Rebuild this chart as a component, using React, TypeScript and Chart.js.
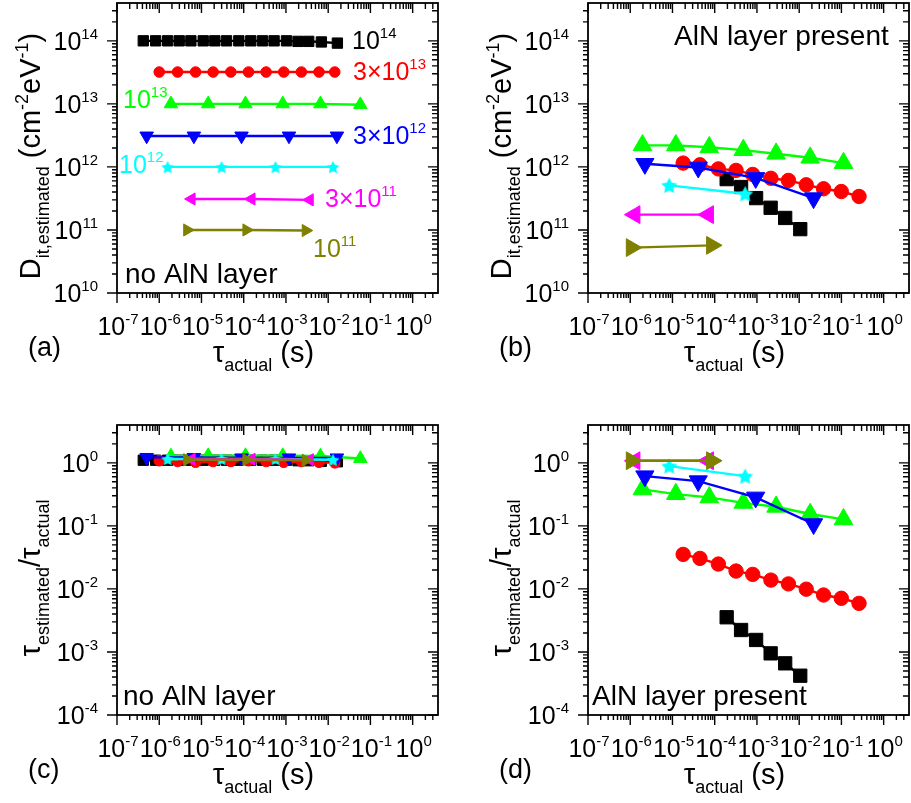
import React, { useEffect, useRef } from "react";
import { Chart, registerables } from "chart.js";

Chart.register(...registerables);

const SANS = '"Liberation Sans", Arial, sans-serif';

// Series order: 1e14, 3e13, 1e13, 3e12, 1e12, 3e11, 1e11
const seriesNames = ["1e14", "3e13", "1e13", "3e12", "1e12", "3e11", "1e11"];
const seriesColors = ["#000000", "#ff0000", "#00ff00", "#0000ff", "#00ffff", "#ff00ff", "#808000"];

// ---------- Panel (a) / (c): no AlN layer ----------
const tauA_1e14 = [4.19e-7, 8.22e-7, 1.58e-6, 2.97e-6, 5.61e-6, 1.1e-5, 2.07e-5, 3.92e-5, 7.66e-5, 1.47e-4, 2.78e-4, 5.24e-4, 1.03e-3, 1.93e-3, 3.46e-3, 6.9e-3, 1.65e-2];
const tauA_3e13 = [1.0e-6, 2.72e-6, 7.26e-6, 1.89e-5, 4.95e-5, 1.3e-4, 3.39e-4, 8.87e-4, 2.32e-3, 6.07e-3, 1.43e-2];
const tauA_1e13 = [1.89e-6, 1.44e-5, 1.1e-4, 8.4e-4, 6.55e-3, 5.77e-2];
const tauA_3e12 = [5.04e-7, 6.61e-6, 8.87e-5, 1.18e-3, 1.61e-2];
const tauA_1e12 = [1.58e-6, 2.99e-5, 5.65e-4, 1.3e-2];
const tauA_3e11 = [5.83e-6, 1.53e-4, 3.66e-3];
const tauA_1e11 = [4.59e-6, 1.16e-4, 2.94e-3];

const ditA_1e14 = [1.0e14, 1.0e14, 1.0e14, 1.0e14, 1.0e14, 1.0e14, 1.0e14, 1.0e14, 1.0e14, 1.0e14, 1.0e14, 1.0e14, 1.0e14, 0.98e14, 0.98e14, 0.96e14, 0.92e14];
const ditA_3e13 = [3.2e13, 3.2e13, 3.2e13, 3.2e13, 3.2e13, 3.2e13, 3.2e13, 3.2e13, 3.2e13, 3.2e13, 3.2e13];
const ditA_1e13 = [1.0e13, 1.0e13, 1.0e13, 1.0e13, 1.0e13, 0.97e13];
const ditA_3e12 = [3.1e12, 3.1e12, 3.1e12, 3.1e12, 3.1e12];
const ditA_1e12 = [1.0e12, 1.0e12, 1.0e12, 1.0e12];
const ditA_3e11 = [3.1e11, 3.1e11, 3.0e11];
const ditA_1e11 = [1.0e11, 1.0e11, 0.98e11];

const ratioC_1e14 = [1.1, 1.1, 1.1, 1.1, 1.1, 1.1, 1.1, 1.1, 1.1, 1.1, 1.1, 1.1, 1.1, 1.08, 1.08, 1.06, 1.04];
const ratioC_3e13 = [1.08, 1.05, 1.02, 1.05, 1.05, 1.08, 1.05, 1.02, 1.05, 1.02, 1.0];
const ratioC_1e13 = [1.28, 1.3, 1.3, 1.3, 1.28, 1.17];
const ratioC_3e12 = [1.22, 1.22, 1.2, 1.2, 1.2];
const ratioC_1e12 = [1.15, 1.15, 1.15, 1.12];
const ratioC_3e11 = [1.14, 1.14, 1.12];
const ratioC_1e11 = [1.12, 1.12, 1.1];

// ---------- Panel (b) / (d): AlN layer present ----------
const tauB_1e14 = [1.92e-4, 4.21e-4, 9.55e-4, 2.11e-3, 4.66e-3, 1.06e-2];
const tauB_3e13 = [1.79e-5, 4.47e-5, 1.22e-4, 3.2e-4, 7.94e-4, 2.14e-3, 5.57e-3, 1.47e-2, 3.78e-2, 9.93e-2, 2.61e-1];
const tauB_1e13 = [1.95e-6, 1.2e-5, 7.43e-5, 4.76e-4, 2.84e-3, 1.82e-2, 1.12e-1];
const tauB_3e12 = [2.22e-6, 4.07e-5, 9.33e-4, 2.19e-2];
const tauB_1e12 = [8.36e-6, 5.25e-4];
const tauB_3e11 = [1.28e-6, 7.05e-5];
const tauB_1e11 = [1.07e-6, 8.51e-5];

const ditB_1e14 = [6.4e11, 4.8e11, 3.2e11, 2.25e11, 1.55e11, 1.03e11];
const ditB_3e13 = [1.15e12, 1.08e12, 9.3e11, 8.8e11, 7.6e11, 6.6e11, 6.1e11, 5.2e11, 4.5e11, 4.07e11, 3.4e11];
const ditB_1e13 = [2.2e12, 2.2e12, 2.05e12, 1.85e12, 1.62e12, 1.4e12, 1.15e12];
const ditB_3e12 = [1.12e12, 9.8e11, 6.7e11, 3.2e11];
const ditB_1e12 = [5.1e11, 3.75e11];
const ditB_3e11 = [1.75e11, 1.75e11];
const ditB_1e11 = [5.25e10, 5.7e10];

const ratioD_1e14 = [3.55e-3, 2.23e-3, 1.55e-3, 9.5e-4, 6.6e-4, 4.2e-4];
const ratioD_3e13 = [0.0353, 0.0305, 0.0248, 0.0192, 0.017, 0.0138, 0.012, 0.0099, 0.008, 0.0071, 0.0059];
const ratioD_1e13 = [0.379, 0.319, 0.283, 0.232, 0.201, 0.154, 0.127];
const ratioD_3e12 = [0.615, 0.513, 0.283, 0.107];
const ratioD_1e12 = [0.887, 0.615];
const ratioD_3e11 = [1.08, 1.08];
const ratioD_1e11 = [1.08, 1.08];

// axis tick exponents
const xDecades = [-7, -6, -5, -4, -3, -2, -1, 0];
const ditDecades = [10, 11, 12, 13, 14];
const ratioDecades = [-4, -3, -2, -1, 0];

const X_MIN = 1e-7;
const X_MAX = Math.pow(10, 0.6);

type Part = [string, number, number];

function richWidth(ctx: CanvasRenderingContext2D, parts: Part[]) {
  let w = 0;
  for (const [t, s] of parts) {
    ctx.font = `${s}px ${SANS}`;
    w += ctx.measureText(t).width;
  }
  return w;
}

function drawRich(ctx: CanvasRenderingContext2D, parts: Part[], x: number, y: number, align: string, color: string) {
  const w = richWidth(ctx, parts);
  let cx = align === "left" ? x : align === "center" ? x - w / 2 : x - w;
  ctx.fillStyle = color;
  ctx.textAlign = "left";
  ctx.textBaseline = "alphabetic";
  for (const [t, s, dy] of parts) {
    ctx.font = `${s}px ${SANS}`;
    ctx.fillText(t, cx, y + dy);
    cx += ctx.measureText(t).width;
  }
}

function makeStar(r: number, color: string) {
  const c = document.createElement("canvas");
  const s = Math.ceil(2 * r + 2);
  c.width = s;
  c.height = s;
  const g = c.getContext("2d")!;
  g.fillStyle = color;
  g.beginPath();
  for (let i = 0; i < 10; i++) {
    const rr = i % 2 === 0 ? r : r * 0.5;
    const a = -Math.PI / 2 + (i * Math.PI) / 5;
    const px = s / 2 + rr * Math.cos(a);
    const py = s / 2 + rr * Math.sin(a) + 0.8;
    if (i === 0) g.moveTo(px, py);
    else g.lineTo(px, py);
  }
  g.closePath();
  g.fill();
  return c;
}

const SUP = (base: string, exp: string, size = 25, esize = 15): Part[] => [
  [base, size, 0],
  [exp, esize, -11],
];

type Annot = { parts: Part[]; color: string; dx: number; dy: number; align?: string };

type PanelCfg = {
  id: string;
  left: number;
  top: number;
  w: number;
  h: number;
  pad: { left: number; right: number; top: number; bottom: number };
  xs: number[][];
  ys: number[][];
  big: boolean;
  yMin: number;
  yMax: number;
  yDecades: number[];
  yTitle: Part[];
  label: string;
  annots: Annot[];
};

const yTitleDit: Part[] = [
  ["D", 29, 0],
  ["it,estimated", 18, 9],
  [" (cm", 29, 0],
  ["-2", 18, -12],
  ["eV", 29, 0],
  ["-1", 18, -12],
  [")", 29, 0],
];
const yTitleRatio: Part[] = [
  ["τ", 29, 0],
  ["estimated", 18, 9],
  ["/", 29, 0],
  ["τ", 29, 0],
  ["actual", 18, 9],
];

const panels: PanelCfg[] = [
  {
    id: "a",
    left: 0,
    top: 0,
    w: 455,
    h: 400,
    pad: { left: 117, right: 17, top: 3, bottom: 107 },
    xs: [tauA_1e14, tauA_3e13, tauA_1e13, tauA_3e12, tauA_1e12, tauA_3e11, tauA_1e11],
    ys: [ditA_1e14, ditA_3e13, ditA_1e13, ditA_3e12, ditA_1e12, ditA_3e11, ditA_1e11],
    big: false,
    yMin: 1e10,
    yMax: Math.pow(10, 14.6),
    yDecades: ditDecades,
    yTitle: yTitleDit,
    label: "(a)",
    annots: [
      { parts: SUP("10", "14"), color: seriesColors[0], dx: 235, dy: 46 },
      { parts: SUP("3×10", "13"), color: seriesColors[1], dx: 236, dy: 77 },
      { parts: SUP("10", "13"), color: seriesColors[2], dx: 6, dy: 105 },
      { parts: SUP("3×10", "12"), color: seriesColors[3], dx: 236, dy: 141 },
      { parts: SUP("10", "12"), color: seriesColors[4], dx: 2, dy: 170 },
      { parts: SUP("3×10", "11"), color: seriesColors[5], dx: 208, dy: 204 },
      { parts: SUP("10", "11"), color: seriesColors[6], dx: 196, dy: 254 },
      { parts: [["no AlN layer", 28, 0]], color: "#000", dx: 8, dy: 280 },
    ],
  },
  {
    id: "b",
    left: 455,
    top: 0,
    w: 456,
    h: 400,
    pad: { left: 133, right: 2, top: 3, bottom: 107 },
    xs: [tauB_1e14, tauB_3e13, tauB_1e13, tauB_3e12, tauB_1e12, tauB_3e11, tauB_1e11],
    ys: [ditB_1e14, ditB_3e13, ditB_1e13, ditB_3e12, ditB_1e12, ditB_3e11, ditB_1e11],
    big: true,
    yMin: 1e10,
    yMax: Math.pow(10, 14.6),
    yDecades: ditDecades,
    yTitle: yTitleDit,
    label: "(b)",
    annots: [{ parts: [["AlN layer present", 28, 0]], color: "#000", dx: 86, dy: 42 }],
  },
  {
    id: "c",
    left: 0,
    top: 400,
    w: 455,
    h: 403,
    pad: { left: 117, right: 17, top: 25, bottom: 88 },
    xs: [tauA_1e14, tauA_3e13, tauA_1e13, tauA_3e12, tauA_1e12, tauA_3e11, tauA_1e11],
    ys: [ratioC_1e14, ratioC_3e13, ratioC_1e13, ratioC_3e12, ratioC_1e12, ratioC_3e11, ratioC_1e11],
    big: false,
    yMin: 1e-4,
    yMax: Math.pow(10, 0.6),
    yDecades: ratioDecades,
    yTitle: yTitleRatio,
    label: "(c)",
    annots: [{ parts: [["no AlN layer", 28, 0]], color: "#000", dx: 6, dy: 280 }],
  },
  {
    id: "d",
    left: 455,
    top: 400,
    w: 456,
    h: 403,
    pad: { left: 133, right: 2, top: 25, bottom: 88 },
    xs: [tauB_1e14, tauB_3e13, tauB_1e13, tauB_3e12, tauB_1e12, tauB_3e11, tauB_1e11],
    ys: [ratioD_1e14, ratioD_3e13, ratioD_1e13, ratioD_3e12, ratioD_1e12, ratioD_3e11, ratioD_1e11],
    big: true,
    yMin: 1e-4,
    yMax: Math.pow(10, 0.6),
    yDecades: ratioDecades,
    yTitle: yTitleRatio,
    label: "(d)",
    annots: [{ parts: [["AlN layer present", 28, 0]], color: "#000", dx: 4, dy: 280 }],
  },
];

// marker style per series: [style, rotation, small radius, big radius]
const markerStyles: [string, number, number, number][] = [
  ["rect", 0, 7.3, 9.4],
  ["circle", 0, 5.3, 7.2],
  ["triangle", 0, 7.8, 10.8],
  ["triangle", 180, 7.8, 10.5],
  ["star", 0, 6.8, 8.5],
  ["triangle", 270, 7, 10.3],
  ["triangle", 90, 7, 10.3],
];

function makeDeco(cfg: PanelCfg) {
  return {
    id: "deco_" + cfg.id,
    beforeDatasetsDraw(chart: any) {
      const ctx: CanvasRenderingContext2D = chart.ctx;
      const { left, right, top, bottom } = chart.chartArea;
      const xs = chart.scales.x;
      const ys = chart.scales.y;
      ctx.save();
      ctx.strokeStyle = "#000";
      ctx.lineWidth = 1.4;
      ctx.beginPath();
      for (let d = -7; d <= 0; d++) {
        for (let k = 1; k <= 9; k++) {
          const v = k * Math.pow(10, d);
          if (v < X_MIN * 0.999 || v > X_MAX * 1.001) continue;
          const px = xs.getPixelForValue(v);
          const major = k === 1;
          ctx.moveTo(px, bottom);
          ctx.lineTo(px, bottom + (major ? 10 : 5));
          ctx.moveTo(px, top);
          ctx.lineTo(px, top + (major ? 10 : 6));
        }
      }
      const d0 = Math.floor(Math.log10(cfg.yMin));
      const d1 = Math.floor(Math.log10(cfg.yMax));
      for (let d = d0; d <= d1; d++) {
        for (let k = 1; k <= 9; k++) {
          const v = k * Math.pow(10, d);
          if (v < cfg.yMin * 0.999 || v > cfg.yMax * 1.001) continue;
          const py = ys.getPixelForValue(v);
          const major = k === 1;
          ctx.moveTo(left, py);
          ctx.lineTo(left - (major ? 10 : 5), py);
          ctx.moveTo(right, py);
          ctx.lineTo(right - (major ? 10 : 6), py);
        }
      }
      ctx.stroke();
      ctx.lineWidth = 1.8;
      ctx.strokeRect(left, top, right - left, bottom - top);
      ctx.restore();
    },
    afterDraw(chart: any) {
      const ctx: CanvasRenderingContext2D = chart.ctx;
      const { left, right, top, bottom } = chart.chartArea;
      const xs = chart.scales.x;
      const ys = chart.scales.y;
      ctx.save();
      // x tick labels
      for (const d of xDecades) {
        const px = xs.getPixelForValue(Math.pow(10, d));
        drawRich(ctx, SUP("10", String(d)), px + 1, bottom + 42, "center", "#000");
      }
      // y tick labels
      for (const d of cfg.yDecades) {
        const py = ys.getPixelForValue(Math.pow(10, d));
        drawRich(ctx, SUP("10", String(d)), left - 19, py + 9, "right", "#000");
      }
      // x title
      const cxm = (left + right) / 2 - 14;
      drawRich(
        ctx,
        [
          ["τ", 29, 0],
          ["actual", 18, 9],
          [" (s)", 29, 0],
        ],
        cxm,
        bottom + 69,
        "center",
        "#000"
      );
      // y title (rotated)
      ctx.save();
      ctx.translate(left - 77, (top + bottom) / 2 + 8);
      ctx.rotate(-Math.PI / 2);
      drawRich(ctx, cfg.yTitle, 0, 0, "center", "#000");
      ctx.restore();
      // panel label
      drawRich(ctx, [[cfg.label, 27, 0]], left - 89, bottom + 63, "left", "#000");
      // annotations
      for (const a of cfg.annots) {
        drawRich(ctx, a.parts, left + a.dx, top + a.dy, a.align || "left", a.color);
      }
      ctx.restore();
    },
  };
}

function Panel({ cfg }: { cfg: PanelCfg }) {
  const ref = useRef<HTMLCanvasElement>(null);
  useEffect(() => {
    const canvas = ref.current!;
    const datasets = cfg.xs.map((xarr, i) => {
      const color = seriesColors[i];
      const [style, rot, rs, rb] = markerStyles[i];
      const r = cfg.big ? rb : rs;
      const pointStyle: any = style === "star" ? makeStar(r, color) : style;
      return {
        label: seriesNames[i],
        data: xarr.map((x, j) => ({ x, y: cfg.ys[i][j] })),
        borderColor: color,
        backgroundColor: color,
        pointBackgroundColor: color,
        pointBorderColor: color,
        pointBorderWidth: 1,
        pointStyle,
        pointRotation: rot,
        pointRadius: r,
        borderWidth: 2.4,
        tension: 0,
        fill: false,
        order: 7 - i,
      };
    });
    const chart = new Chart(canvas, {
      type: "line",
      data: { datasets },
      options: {
        animation: false,
        responsive: false,
        maintainAspectRatio: false,
        devicePixelRatio: 1,
        layout: { padding: cfg.pad, autoPadding: false },
        plugins: { legend: { display: false }, tooltip: { enabled: false } },
        scales: {
          x: { type: "logarithmic", min: X_MIN, max: X_MAX, display: false },
          y: { type: "logarithmic", min: cfg.yMin, max: cfg.yMax, display: false },
        },
      },
      plugins: [makeDeco(cfg)],
    } as any);
    return () => chart.destroy();
  }, [cfg]);
  return (
    <canvas
      ref={ref}
      width={cfg.w}
      height={cfg.h}
      style={{ position: "absolute", left: cfg.left, top: cfg.top, width: cfg.w, height: cfg.h }}
    />
  );
}

export default function App() {
  return (
    <div style={{ position: "absolute", left: 0, top: 0, width: 911, height: 803, background: "#fff" }}>
      {panels.map((p) => (
        <Panel key={p.id} cfg={p} />
      ))}
    </div>
  );
}
